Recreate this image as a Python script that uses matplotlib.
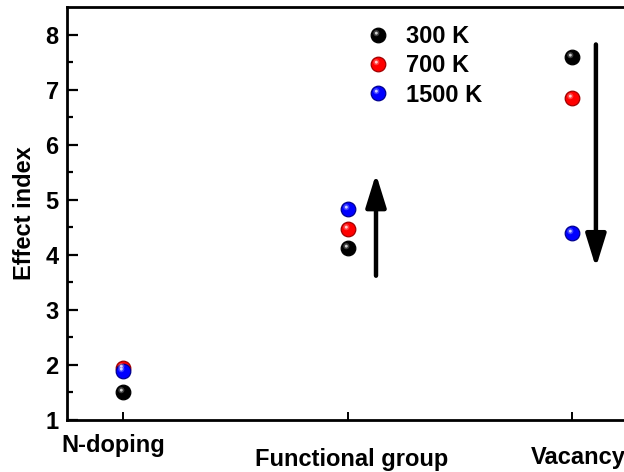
import numpy as np
import matplotlib.pyplot as plt
from matplotlib.path import Path
from matplotlib.legend_handler import HandlerTuple

plt.rcParams['font.family'] = ['Liberation Sans', 'DejaVu Sans']
plt.rcParams['font.weight'] = 'bold'

# Datos
categorias = ['N-doping', 'Functional group', 'Vacancy']
temperaturas = ['300 K', '700 K', '1500 K']
v_300 = [1.50, 4.13, 7.60]
v_700 = [1.95, 4.47, 6.84]
v_1500 = [1.89, 4.84, 4.40]
colores = ['black', '#ff0000', '#0000ff']
brillos = ['#b0b0b0', '#ffb0b0', '#b0b8ff']
bordes = ['#000000', '#a00000', '#000090']

# flechas (x, y inicio, y final)
flecha_fg = (1.127, 3.62, 5.47)
flecha_vac = (2.107, 7.82, 3.77)

fig = plt.figure(figsize=(6.24, 4.72), dpi=100)
ax = fig.add_axes([67/624, 1 - 420/472, 561/624, 413/472])

x = np.arange(len(categorias))
ms = 10.5


def marcador_brillo(r, cx=-0.3, cy=0.32):
    # circulo desplazado arriba a la izquierda, escalado respecto a la esfera
    p = Path.circle(center=(cx, cy), radius=r)
    return p, ms * (max(abs(cx), abs(cy)) + r)


brillo_a, ms_a = marcador_brillo(0.42)
brillo_b, ms_b = marcador_brillo(0.2)

handles = []
for vals, c, b, e in zip([v_300, v_700, v_1500], colores, brillos, bordes):
    h1, = ax.plot(x, vals, 'o', ms=ms, mfc=c, mec=e, mew=0.9, ls='none', zorder=3)
    h2, = ax.plot(x, vals, marker=brillo_a, ms=ms_a, mfc=b, mec='none', ls='none',
                  alpha=0.35, zorder=4)
    h3, = ax.plot(x, vals, marker=brillo_b, ms=ms_b, mfc='white', mec='none', ls='none',
                  alpha=0.75, zorder=5)
    handles.append((h1, h2, h3))

for fx, y0, y1 in [flecha_fg, flecha_vac]:
    ax.annotate('', xy=(fx, y1), xytext=(fx, y0),
                arrowprops=dict(arrowstyle='-|>,head_width=0.62,head_length=2.0',
                                lw=3.2, color='black', shrinkA=0, shrinkB=0))

ax.legend(handles, temperaturas, handler_map={tuple: HandlerTuple(ndivide=1)},
          loc='upper left', bbox_to_anchor=(0.496, 1.008), frameon=False,
          handlelength=1.0, handletextpad=0.69, labelspacing=0.27,
          prop={'weight': 'bold', 'size': 17})

ax.set_xlim(-0.25, 2.25)
ax.set_ylim(1, 8.5)
ax.set_yticks(np.arange(1, 9))
ax.set_yticks(np.arange(1.5, 8.5, 1), minor=True)
ax.set_xticks(x)
ax.set_xticklabels([])
ax.tick_params(axis='y', direction='in', length=8, width=1.6, labelsize=17, pad=6)
ax.tick_params(axis='y', which='minor', direction='in', length=4.5, width=1.6)
ax.tick_params(axis='x', direction='in', length=6, width=1.4)
for s in ax.spines.values():
    s.set_linewidth(2.0)

# etiquetas de categoria a distintas alturas
desplaz = [(-0.045, -0.062), (0.018, -0.095), (0.027, -0.090)]
trans = ax.get_xaxis_transform()
for i, (cat, (dx, dy)) in enumerate(zip(categorias, desplaz)):
    ax.text(i + dx, dy, cat, transform=trans, ha='center', va='center',
            fontsize=17, fontweight='bold')

ax.set_ylabel('Effect index', fontsize=17, fontweight='bold', labelpad=7)

fig.savefig('out.png', dpi=100)
